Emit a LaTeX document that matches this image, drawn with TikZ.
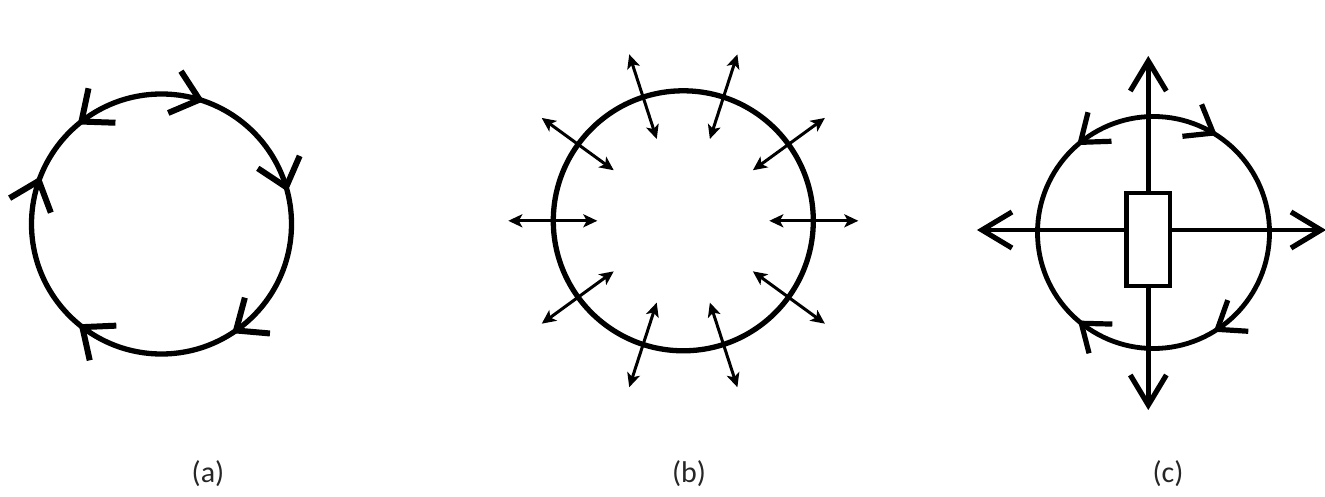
\documentclass[tikz,border=0pt]{standalone}
\usepackage{fontspec}
\setmainfont{Carlito}
\usetikzlibrary{arrows.meta,calc}
\newcommand{\mychev}[5]{% #1 style, #2 tip, #3 back angle, #4 half angle, #5 arm length
  \draw[#1] ($(#2)+({#3+#4}:#5)$) -- (#2) -- ($(#2)+({#3-#4}:#5)$);}
\begin{document}
\begin{tikzpicture}[x=1pt,y=1pt,
  ring/.style={line width=5.3pt},
  barb/.style={line width=6pt, line cap=butt, line join=miter},
  sbarb/.style={line width=5.2pt, line cap=butt, line join=miter},
  dbl/.style={line width=3pt, {Stealth[length=14pt,width=13pt,inset=3.5pt]}-{Stealth[length=14pt,width=13pt,inset=3.5pt]}},
  axisline/.style={line width=4.8pt},
  lbl/.style={font=\fontsize{30}{34}\selectfont, inner sep=0pt, text=black!85}]
\useasboundingbox (0,0) rectangle (1325,496);

% ---------- (a)
\coordinate (A) at (161.5,272);
\draw[ring] (A) circle[radius=130];
\foreach \t/\s [count=\i] in {73/1, 16.5/1, -55/1, -127.5/1, 160.6/1, 128/-1} {
  \pgfmathsetmacro{\bk}{\t+\s*90}
  \path (A) ++(\t:130) coordinate (ta\i);
  \mychev{barb}{ta\i}{\bk}{40}{34}
}

% ---------- (b)
\coordinate (B) at (683.3,275.2);
\draw[ring] (B) circle[radius=130];
\foreach \a [count=\i] in {0,36,...,324} {
  \path (B) ++(\a:86) coordinate (bi\i);
  \path (B) ++(\a:175) coordinate (bo\i);
  \draw[dbl] (bi\i) -- (bo\i);
}

% ---------- (c)
\coordinate (C) at (1153.5,263.5);
\draw[ring, line width=4.8pt] (C) circle[radius=116];
\foreach \t/\s [count=\i] in {129/-1, 59/1, -56.6/1, -128.5/1} {
  \pgfmathsetmacro{\bk}{\t+\s*90}
  \path (C) ++(\t:116) coordinate (tc\i);
  \mychev{sbarb}{tc\i}{\bk}{37}{31}
}
\coordinate (cT) at (1148.3,435);
\coordinate (cB) at (1148.3,91);
\coordinate (cL) at (982,266);
\coordinate (cR) at (1321,266);
\draw[axisline] (cL) -- (cR);
\draw[axisline] (cT) -- (cB);
\mychev{sbarb}{cT}{270}{31}{35}
\mychev{sbarb}{cB}{90}{31}{35}
\mychev{sbarb}{cL}{0}{31}{35}
\mychev{sbarb}{cR}{180}{31}{35}
\node[draw, fill=white, line width=4.5pt, minimum width=43.5pt, minimum height=93pt, inner sep=0pt] (box) at (1148.3,256.5) {};

% ---------- labels
\node[lbl] (la) at (208,22) {(a)};
\node[lbl] (lb) at (689,22) {(b)};
\node[lbl] (lc) at (1168,22) {(c)};
\end{tikzpicture}
\end{document}
